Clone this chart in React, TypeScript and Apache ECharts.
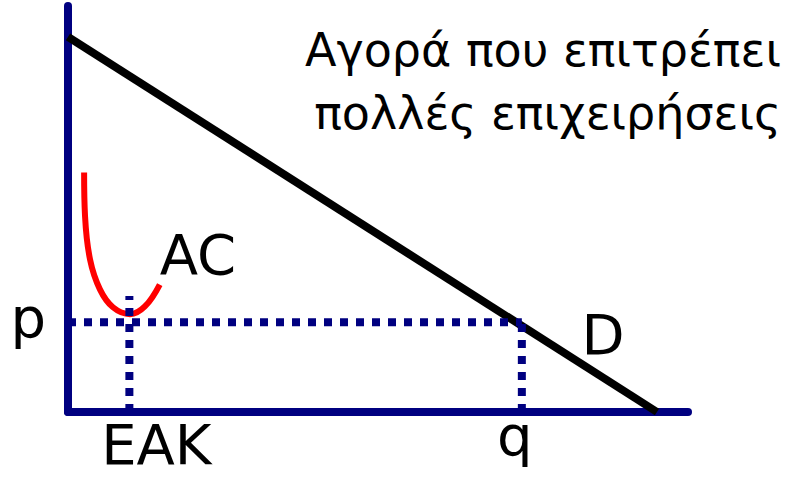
import { useEffect, useRef } from 'react';
import * as echarts from 'echarts';

// Demand line D (x: quantity, y: price), axis units 0..100
const demandX = [0, 95];
const demandY = [92.4, 0];
// Average cost curve AC
const acX = [2.6, 2.75, 3.55, 5.15, 7.25, 10.0, 12.4, 14.8];
const acY = [59.0, 48.2, 37.6, 30.2, 25.8, 24.1, 26.0, 31.4];
// Market price and quantities
const priceP = 22.1;
const quantityEAK = 9.9;
const eakTop = 28.6;
const quantityQ = 73.2;
const titleLines = ['Αγορά που επιτρέπει', 'πολλές επιχειρήσεις'];
const labelP = 'p';
const labelEAK = 'ΕΑΚ';
const labelQ = 'q';
const labelD = 'D';
const labelAC = 'AC';

const NAVY = '#000080';
const FONT = '"DejaVu Sans", Verdana, sans-serif';

export default function App() {
  const ref = useRef<HTMLDivElement>(null);
  useEffect(() => {
    const el = ref.current!;
    const chart = echarts.init(el, null, { renderer: 'svg' });
    const dotted = { color: NAVY, width: 8, type: [8, 8] as number[], cap: 'butt' as const };
    chart.setOption({
      animation: false,
      grid: { left: 68, top: 6, right: 101, bottom: 65 },
      xAxis: {
        type: 'value', min: 0, max: 100,
        axisLine: { show: true, lineStyle: { color: NAVY, width: 8 } },
        axisTick: { show: false }, axisLabel: { show: false }, splitLine: { show: false },
      },
      yAxis: {
        type: 'value', min: 0, max: 100,
        axisLine: { show: true, lineStyle: { color: NAVY, width: 8 } },
        axisTick: { show: false }, axisLabel: { show: false }, splitLine: { show: false },
      },
      series: [
        {
          type: 'line', data: acX.map((x, i) => [x, acY[i]]), smooth: 0.4, showSymbol: false,
          lineStyle: { color: '#ff0000', width: 6 }, z: 3, clip: false,
        },
        {
          type: 'line', data: demandX.map((x, i) => [x, demandY[i]]), showSymbol: false,
          lineStyle: { color: '#000000', width: 8 }, z: 4, clip: false,
        },
        {
          type: 'line', data: [[0, priceP], [quantityQ, priceP]], showSymbol: false,
          lineStyle: dotted, z: 5, clip: false,
        },
        {
          type: 'line', data: [[quantityEAK, 0], [quantityEAK, eakTop]], showSymbol: false,
          lineStyle: dotted, z: 5, clip: false,
        },
        {
          type: 'line', data: [[quantityQ, 0], [quantityQ, priceP]], showSymbol: false,
          lineStyle: dotted, z: 5, clip: false,
        },
      ],
    });
    const px = (x: number, y: number) => chart.convertToPixel({ gridIndex: 0 }, [x, y]) as number[];
    const pP = px(0, priceP);
    const pE = px(quantityEAK, 0);
    const pQ = px(quantityQ, 0);
    const pAC = px(acX[acX.length - 1], acY[acY.length - 1]);
    const pD = px(85, demandY[0] * (1 - 85 / demandX[1]));
    const big = { fontFamily: FONT, fontSize: 56, fill: '#000' };
    const title = { fontFamily: FONT, fontSize: 46, fill: '#000' };
    chart.setOption({
      graphic: [
        { type: 'text', x: pP[0] - 22, y: pP[1] - 5, style: { ...big, text: labelP, align: 'right', verticalAlign: 'middle' } },
        { type: 'text', x: pE[0] + 27, y: pE[1] + 32, style: { ...big, text: labelEAK, align: 'center', verticalAlign: 'middle' } },
        { type: 'text', x: pQ[0] - 7, y: pQ[1] + 23, style: { ...big, text: labelQ, align: 'center', verticalAlign: 'middle' } },
        { type: 'text', x: pD[0] + 8, y: pD[1] - 38, style: { ...big, text: labelD, align: 'center', verticalAlign: 'middle' } },
        { type: 'text', x: pAC[0], y: pAC[1] - 30, style: { ...big, text: labelAC, align: 'left', verticalAlign: 'middle' } },
        { type: 'text', x: 781, y: 50, style: { ...title, text: titleLines[0], align: 'right', verticalAlign: 'middle' } },
        { type: 'text', x: 781, y: 113, style: { ...title, text: titleLines[1], align: 'right', verticalAlign: 'middle' } },
      ],
    });
    return () => chart.dispose();
  }, []);
  return <div ref={ref} style={{ position: 'fixed', left: 0, top: 0, width: 789, height: 477, background: '#fff' }} />;
}
